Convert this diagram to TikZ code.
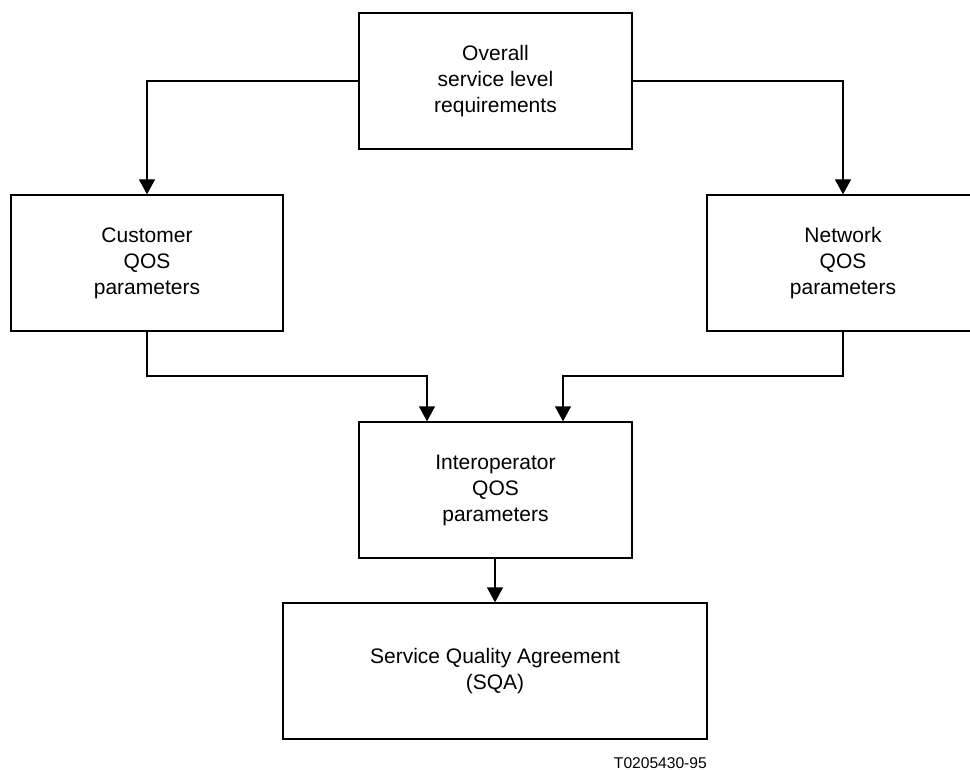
\documentclass[tikz,border=0pt]{standalone}
\usepackage{fontspec}
\setmainfont{Liberation Sans}
\usetikzlibrary{arrows.meta}
\begin{document}
\begin{tikzpicture}[x=1pt,y=-1pt,
  box/.style={draw=black, line width=1.3pt, minimum width=#1, minimum height=136pt,
    inner sep=0pt, align=center, font=\fontsize{21}{26}\selectfont},
  arr/.style={draw=black, line width=1.3pt, -{Triangle[width=16pt,length=15pt]}},
  lbl/.style={font=\fontsize{15.6}{18}\selectfont, inner sep=0pt}]
\useasboundingbox (0,0) rectangle (970,770);
\clip (0,0) rectangle (970,770);
\node[box=273pt] (top) at (495.5,81) {Overall\\service level\\requirements};
\node[box=272pt] (cust) at (147,263) {Customer\\QOS\\parameters};
\node[box=272pt] (net) at (843,263) {Network\\QOS\\parameters};
\node[box=273pt] (inter) at (495.5,490) {Interoperator\\QOS\\parameters};
\node[box=424pt] (sqa) at (495,671) {Service Quality Agreement\\(SQA)};
\node[lbl, anchor=base east] (id) at (707,768) {T0205430-95};
\coordinate (ja) at (427,376);
\coordinate (jb) at (563,376);
\coordinate (jc) at (495,560);
\draw[arr] (top.west) -| (cust.north);
\draw[arr] (top.east) -| (net.north);
\draw[arr] (cust.south) |- (ja) -- (ja |- inter.north);
\draw[arr] (net.south) |- (jb) -- (jb |- inter.north);
\draw[arr] (jc |- inter.south) -- (jc |- sqa.north);
\end{tikzpicture}
\end{document}
